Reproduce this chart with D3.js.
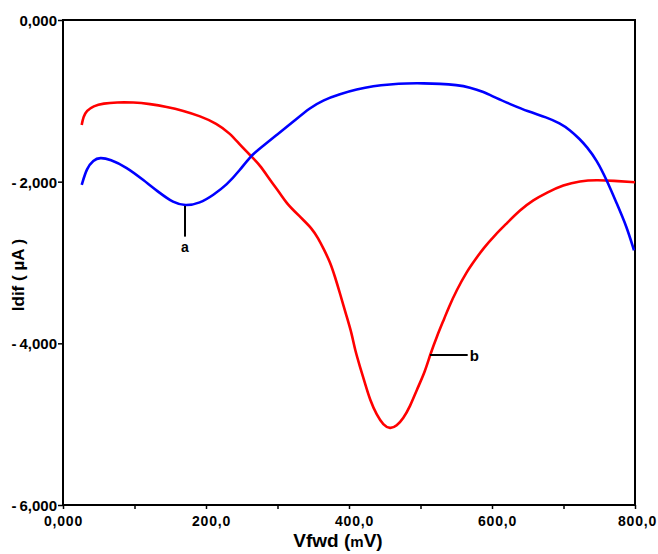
<!DOCTYPE html>
<html><head><meta charset="utf-8">
<script src="https://cdn.jsdelivr.net/npm/d3@7"></script>
<style>body{margin:0;background:#fff;} svg{display:block;} text{font-family:"Liberation Sans",Arial,sans-serif;font-weight:bold;}</style>
</head><body>
<svg id="c" width="658" height="554"></svg>
<script>
const xTicks = [0,100,200,300,400,500,600,700,800];
const xTickLabels = ["0,000","","200,0","","400,0","","600,0","","800,0"];
const yTicks = [0,-2000,-4000,-6000];
const yTickLabels = ["0,000","-\u20092,000","-\u20094,000","-\u20096,000"];

const blueX = [26.2,33.1,42.4,51.7,65.7,89.1,112.3,135.7,154.3,170.6,191.6,210.2,229,247.6,261.5,275.5,298.9,322.1,345.5,364,387.4,410.8,434,457.3,480.7,504,527.3,550.6,569.2,587.8,606.6,625.2,650.8,676.4,695.1,709.1,723.1,732.4,746.4,760.4,774.4,788.4,798.6];
const blueY = [-2041,-1834,-1732,-1699,-1724,-1822,-1979,-2144,-2260,-2301,-2268,-2165,-2041,-1856,-1691,-1587,-1423,-1258,-1085,-990,-916,-858,-817,-796,-783,-783,-788,-804,-833,-887,-969,-1039,-1134,-1204,-1278,-1361,-1476,-1567,-1732,-1979,-2268,-2557,-2850];

const redX = [26.2,28.4,33.1,42.4,56.4,75.1,98.3,121.7,145,168.3,191.6,214.9,233.6,247.6,261.5,275.5,289.5,303.5,312.9,324.5,336.1,347.8,357.1,364.1,373.4,380.4,387.4,396.8,403.8,408.4,415.4,422.4,429.4,438.7,448,457.3,466.7,476,485.3,494.7,506.3,513.3,522.7,534.3,538.9,550.6,564.6,576.2,587.8,604.2,620.6,639.2,657.8,676.5,699.7,723.1,746.4,769.6,800];
const redY = [-1299,-1196,-1122,-1064,-1031,-1018,-1018,-1039,-1073,-1122,-1188,-1278,-1402,-1546,-1670,-1794,-1979,-2144,-2268,-2372,-2474,-2577,-2701,-2825,-2990,-3176,-3382,-3671,-3877,-4083,-4290,-4496,-4702,-4887,-5011,-5060,-5023,-4928,-4784,-4577,-4351,-4145,-3918,-3671,-3567,-3340,-3114,-2969,-2825,-2660,-2516,-2351,-2227,-2136,-2041,-1992,-1979,-1988,-2008];

const labelA = {text:"a", x:170.6, y:-2301, y2:-2680};
const labelB = {text:"b", x:513.3, y:-4145, x2:566};

const svg = d3.select("#c");
const L=63, R=635, T=20, B=505;
const x = d3.scaleLinear().domain([0,800]).range([L,R]);
const y = d3.scaleLinear().domain([-6000,0]).range([B,T]);

// frame
svg.append("rect").attr("x",L).attr("y",T).attr("width",R-L).attr("height",B-T)
  .attr("fill","none").attr("stroke","#000").attr("stroke-width",2);

// x axis
const xa = svg.append("g").attr("transform",`translate(0,${B})`)
  .call(d3.axisBottom(x).tickValues(xTicks).tickSize(4).tickFormat((d,i)=>xTickLabels[i]));
xa.select(".domain").remove();
xa.selectAll("line").attr("stroke","#000").attr("stroke-width",1.5);
xa.selectAll("text").attr("font-size",14).attr("letter-spacing","0.8px").attr("fill","#000")
  .attr("y",21).attr("dy",0).attr("dx",(d,i)=> i===0 ? 0 : (i===8 ? 2 : 5));

// y axis
const ya = svg.append("g").attr("transform",`translate(${L},0)`)
  .call(d3.axisLeft(y).tickValues(yTicks).tickSize(5).tickFormat((d,i)=>yTickLabels[i]));
ya.select(".domain").remove();
ya.selectAll("line").attr("stroke","#000").attr("stroke-width",1.5);
ya.selectAll("text").attr("font-size",15).attr("fill","#000").attr("x",-6).attr("dy","0.36em");

// titles
const xt = svg.append("text").attr("x",338).attr("y",547).attr("text-anchor","middle").attr("font-size",19).attr("fill","#000");
xt.append("tspan").text("Vfwd (");
xt.append("tspan").attr("font-size",15).text("m");
xt.append("tspan").text("V)");
svg.append("text").attr("transform","translate(24,275) rotate(-90)").attr("text-anchor","middle")
  .attr("font-size",17).attr("fill","#000").text("Idif ( µA )");

// lines
const line = d3.line().x(d=>x(d[0])).y(d=>y(d[1])).curve(d3.curveBasis);
svg.append("path").datum(redX.map((v,i)=>[v,redY[i]])).attr("d",line)
  .attr("fill","none").attr("stroke","#ff0000").attr("stroke-width",2.6);
svg.append("path").datum(blueX.map((v,i)=>[v,blueY[i]])).attr("d",line)
  .attr("fill","none").attr("stroke","#0000ff").attr("stroke-width",2.6);

// annotations
svg.append("line").attr("x1",x(labelA.x)).attr("x2",x(labelA.x)).attr("y1",y(labelA.y)).attr("y2",y(labelA.y2))
  .attr("stroke","#000").attr("stroke-width",2);
svg.append("text").attr("x",x(labelA.x)).attr("y",y(labelA.y2)+15).attr("text-anchor","middle").attr("font-size",14).attr("fill","#000").text(labelA.text);
svg.append("line").attr("x1",x(labelB.x)).attr("x2",x(labelB.x2)).attr("y1",y(labelB.y)).attr("y2",y(labelB.y))
  .attr("stroke","#000").attr("stroke-width",2);
svg.append("text").attr("x",x(labelB.x2)+2).attr("y",y(labelB.y)+6).attr("text-anchor","start").attr("font-size",15).attr("fill","#000").text(labelB.text);
</script>
</body></html>
